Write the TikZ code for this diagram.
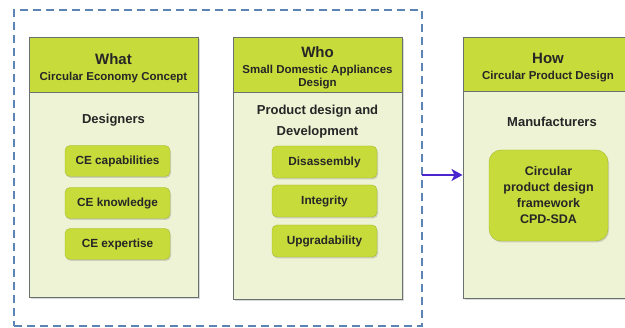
\documentclass[tikz,border=0pt]{standalone}
\usepackage{fontspec}
\setmainfont{Liberation Sans}
\usetikzlibrary{shapes.geometric, arrows.meta, shadows}
\definecolor{ceLime}{HTML}{C7DB3B}
\definecolor{cePale}{HTML}{EDF3D4}
\definecolor{ceEdge}{HTML}{697070}
\definecolor{ceDash}{HTML}{5B84B4}
\definecolor{ceArrow}{HTML}{4A24CF}
\definecolor{ceText}{HTML}{262626}
\newcommand{\headtitle}[1]{\fontsize{15}{17}\selectfont\rule{0pt}{16pt}#1}
\tikzstyle{body_box} = [rectangle, minimum width=169pt, draw=ceEdge, line width=1pt, fill=cePale, drop shadow={opacity=0.3, shadow xshift=1.5pt, shadow yshift=-1.5pt}]
\tikzstyle{head_box} = [rectangle, anchor=north, minimum width=169pt, minimum height=55pt, text centered, align=center, draw=ceEdge, line width=1pt, fill=ceLime, text=ceText, font=\bfseries]
\tikzstyle{item_box} = [rectangle, rounded corners=5pt, minimum width=105pt, minimum height=31pt, text centered, draw=ceLime!85!black, fill=ceLime, text=ceText, font=\fontsize{11.8}{13}\selectfont\bfseries, drop shadow={opacity=0.3, shadow xshift=1pt, shadow yshift=-1.5pt}]
\tikzstyle{body_title} = [draw=none, text centered, align=center, text=ceText, font=\fontsize{13}{21}\selectfont\bfseries]
\tikzstyle{dashed_group} = [rectangle, draw=ceDash, line width=1.5pt, dash pattern=on 8pt off 5pt, minimum width=408pt, minimum height=316pt]
\tikzstyle{arrow} = [line width=2pt, -{Stealth[length=11pt, width=12pt, inset=3pt]}, draw=ceArrow]

\begin{document}
\begin{tikzpicture}[x=1pt, y=-1pt]
		\useasboundingbox (0,0) rectangle (625,328);
		\node (group) [dashed_group] at (218,168) {};

		\node (what) [body_box, minimum height=260pt] at (113.5,168) {};
		\node (what_head) [head_box] at (what.north) {\headtitle{What}\\[4pt] \fontsize{11.5}{13}\selectfont Circular Economy Concept};
		\node (designers) [body_title] at (113.5,120) {Designers};
		\node (ce_cap) [item_box] at (117.5,161) {CE capabilities};
		\node (ce_know) [item_box] at (117.5,203) {CE knowledge};
		\node (ce_exp) [item_box] at (117.5,244) {CE expertise};

		\node (who) [body_box, minimum height=262pt] at (317.5,169) {};
		\node (who_head) [head_box] at (who.north) {\headtitle{Who}\\[4pt] \fontsize{11.5}{13}\selectfont Small Domestic Appliances\\[1pt] \fontsize{11.5}{13}\selectfont Design};
		\node (pdd) [body_title] at (317.5,121.5) {Product design and\\Development};
		\node (disasm) [item_box, minimum height=32pt] at (324.5,162) {Disassembly};
		\node (integ) [item_box, minimum height=32pt] at (324.5,201) {Integrity};
		\node (upgr) [item_box, minimum height=32pt] at (324.5,241) {Upgradability};

		\node (how) [body_box, minimum width=170pt, minimum height=261pt] at (548,168.5) {};
		\node (how_head) [head_box, minimum width=170pt, minimum height=54pt] at (how.north) {\headtitle{How}\\[4pt] \fontsize{11.5}{13}\selectfont Circular Product Design};
		\node (manufacturers) [body_title] at (552,122) {Manufacturers};
		\node (cpd) [item_box, rounded corners=12pt, minimum width=119pt, minimum height=91pt, align=center, font=\fontsize{12.5}{16}\selectfont\bfseries] at (548.5,195.5) {Circular\\product design\\framework\\CPD-SDA};

		\coordinate (arrow_start) at (422,175);
		\draw [arrow] (arrow_start) -- (arrow_start -| how.west);
\end{tikzpicture}
\end{document}
